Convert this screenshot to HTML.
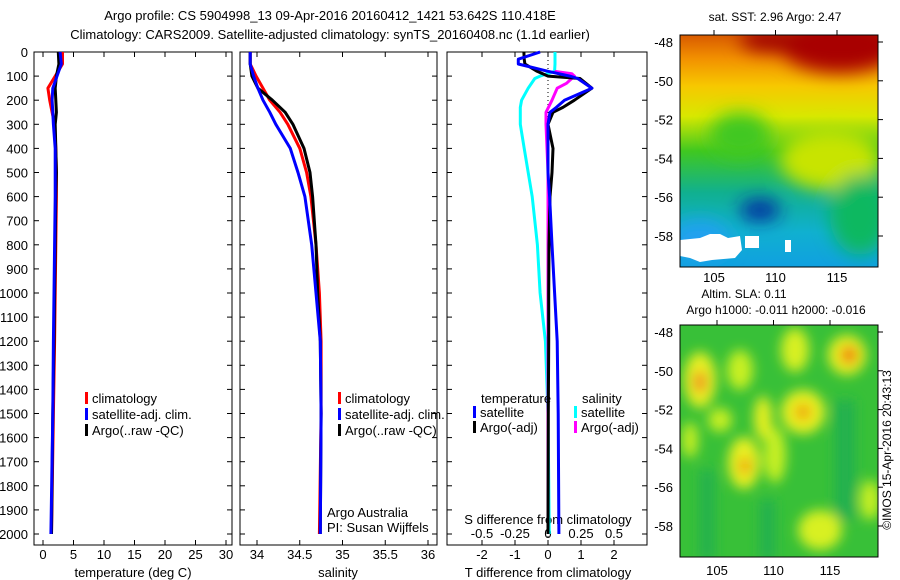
<!DOCTYPE html>
<html><head><meta charset="utf-8"><style>
html,body{margin:0;padding:0;background:#fff}
svg{display:block;font-family:"Liberation Sans",sans-serif}
text{font-size:13px;fill:#000}
</style></head><body>
<svg id="c" width="900" height="580" viewBox="0 0 900 580" xmlns="http://www.w3.org/2000/svg">
<defs>
<filter id="bl" x="-50%" y="-50%" width="200%" height="200%"><feGaussianBlur stdDeviation="9"/></filter>
<filter id="bl2" x="-50%" y="-50%" width="200%" height="200%"><feGaussianBlur stdDeviation="6"/></filter>
<clipPath id="cm1"><rect x="680" y="35" width="198" height="232"/></clipPath>
<clipPath id="cm2"><rect x="680" y="325" width="198" height="232"/></clipPath>
<linearGradient id="sst" x1="0" y1="0" x2="0" y2="1">
<stop offset="0" stop-color="#d85a00"/><stop offset="0.1" stop-color="#f29000"/><stop offset="0.22" stop-color="#f7c800"/>
<stop offset="0.35" stop-color="#d8e800"/><stop offset="0.5" stop-color="#40c820"/><stop offset="0.68" stop-color="#10b090"/>
<stop offset="0.85" stop-color="#10b0d0"/><stop offset="1" stop-color="#10a0e0"/></linearGradient>
</defs>
<text x="330" y="20" text-anchor="middle">Argo profile: CS 5904998_13 09-Apr-2016 20160412_1421 53.642S 110.418E</text>
<text x="330" y="39" text-anchor="middle">Climatology: CARS2009. Satellite-adjusted climatology: synTS_20160408.nc (1.1d earlier)</text>
<g id="g"></g>
<g>
<g clip-path="url(#cm1)">
<rect x="680" y="35" width="198" height="232" fill="url(#sst)"/>
<g filter="url(#bl)">
<ellipse cx="840" cy="45" rx="60" ry="28" fill="#a80000"/>
<ellipse cx="770" cy="40" rx="30" ry="12" fill="#a00000"/>
<ellipse cx="830" cy="160" rx="50" ry="30" fill="#c8e400"/>
<ellipse cx="740" cy="135" rx="30" ry="22" fill="#40c820"/>
<ellipse cx="860" cy="215" rx="30" ry="40" fill="#10b860"/>
<ellipse cx="760" cy="210" rx="20" ry="10" fill="#0020a0"/>
<ellipse cx="700" cy="240" rx="30" ry="20" fill="#20a0f0"/>
</g>
<path d="M680 240 L700 238 L710 234 L720 234 L728 238 L740 236 L742 250 L735 258 L712 260 L700 262 L690 258 L680 256 Z" fill="#fff"/>
<rect x="745" y="236" width="14" height="12" fill="#fff"/>
<rect x="785" y="240" width="6" height="12" fill="#fff"/>
</g>
<rect x="680" y="35" width="198" height="232" fill="none" stroke="#000"/>
</g>
<g>
<g clip-path="url(#cm2)">
<rect x="680" y="325" width="198" height="232" fill="#38c038"/>
<g filter="url(#bl2)">
<rect x="700" y="470" width="14" height="90" fill="#20b050"/>
<rect x="835" y="400" width="20" height="120" fill="#20b050"/>
<rect x="760" y="500" width="15" height="60" fill="#20b050"/>
<ellipse cx="700" cy="380" rx="16" ry="28" fill="#e8f020"/>
<ellipse cx="700" cy="382" rx="6" ry="11" fill="#f08020"/>
<ellipse cx="847" cy="355" rx="19" ry="20" fill="#e8f020"/>
<ellipse cx="849" cy="355" rx="8" ry="9" fill="#f07010"/>
<ellipse cx="803" cy="412" rx="22" ry="22" fill="#e8f020"/>
<ellipse cx="803" cy="412" rx="8" ry="8" fill="#f0a000"/>
<ellipse cx="744" cy="463" rx="16" ry="26" fill="#e8f020"/>
<ellipse cx="745" cy="466" rx="5" ry="8" fill="#f08000"/>
<ellipse cx="763" cy="418" rx="9" ry="22" fill="#e8f020"/>
<ellipse cx="795" cy="350" rx="14" ry="22" fill="#d8f020"/>
<ellipse cx="820" cy="530" rx="22" ry="20" fill="#d8f020"/>
<ellipse cx="740" cy="370" rx="13" ry="20" fill="#c8f020"/>
<ellipse cx="775" cy="455" rx="11" ry="28" fill="#c8f020"/>
<ellipse cx="720" cy="420" rx="12" ry="12" fill="#c8f020"/>
<ellipse cx="870" cy="500" rx="10" ry="20" fill="#c8f020"/>
<ellipse cx="690" cy="440" rx="8" ry="18" fill="#c8f020"/>
</g>
</g>
<rect x="680" y="325" width="198" height="232" fill="none" stroke="#000"/>
</g>
<text x="775" y="21" text-anchor="middle" style="font-size:12px">sat. SST: 2.96 Argo: 2.47</text>
<text x="744" y="298" text-anchor="middle" style="font-size:12px">Altim. SLA: 0.11</text>
<text x="776" y="314" text-anchor="middle" style="font-size:12px">Argo h1000: -0.011 h2000: -0.016</text>
<text transform="translate(891,450) rotate(-90)" text-anchor="middle" style="font-size:12px">©IMOS 15-Apr-2016 20:43:13</text>
</svg>
<script>
const depths=[0,50,100,150,200,250,300,400,500,600,800,1000,1200,1500,2000];
const tempClim=[3.2,3.2,2.0,0.8,1.1,1.5,1.9,2.1,2.2,2.2,2.1,2.0,1.9,1.7,1.4];
const tempArgo=[2.5,2.6,2.2,2.0,2.1,2.2,2.0,2.1,2.2,2.1,2.0,1.9,1.8,1.6,1.4];
const tempSat=[2.8,3.0,2.3,1.6,1.5,1.6,1.7,2.0,2.0,2.0,1.9,1.8,1.7,1.6,1.3];
const salClim=[33.92,33.92,33.99,34.07,34.15,34.27,34.36,34.50,34.58,34.63,34.69,34.73,34.75,34.75,34.73];
const salArgo=[33.92,33.92,33.94,34.01,34.18,34.33,34.42,34.55,34.62,34.65,34.69,34.71,34.74,34.75,34.74];
const salSat=[33.92,33.92,33.96,34.01,34.07,34.15,34.22,34.39,34.48,34.56,34.64,34.69,34.74,34.75,34.74];
const diffDepths=[0,30,50,80,100,110,150,200,230,250,300,400,500,600,800,1000,1200,1500,2000];
const dTsat=[-0.24,-0.9,-0.9,0.0,0.66,0.9,1.33,0.5,0.25,0.06,0.0,0.0,0.0,0.05,0.12,0.2,0.28,0.31,0.33];
const dTargo=[-0.73,-0.72,-0.7,-0.33,0.0,0.97,1.33,0.8,0.45,0.15,0.0,0.15,0.12,0.06,0.03,0.02,0.02,0.01,0.0];
const dSsat=[0.053,0.053,0.053,0.05,-0.06,-0.1,-0.15,-0.2,-0.21,-0.21,-0.21,-0.18,-0.15,-0.12,-0.08,-0.06,-0.02,0.0,0.01];
const dSargoDepths=[80,90,100,130,150,200,250,300,500,1000,2000];
const dSargo=[0.05,0.18,0.2,0.14,0.07,0.03,-0.015,-0.015,0.0,0.0,0.0];
const depthTicks=[0,100,200,300,400,500,600,700,800,900,1000,1100,1200,1300,1400,1500,1600,1700,1800,1900,2000];
const tempTicks=[0,5,10,15,20,25,30];
const salTicks=[34,34.5,35,35.5,36];
const dTTicks=[-2,-1,0,1,2];
const dSTicks=[-0.5,-0.25,0,0.25,0.5];
const latTicks=[-48,-50,-52,-54,-56,-58];
const lonTicks=[105,110,115];

const NS='http://www.w3.org/2000/svg';
const G=document.getElementById('g');
function el(t,a,p){const e=document.createElementNS(NS,t);for(const k in a)e.setAttribute(k,a[k]);(p||G).appendChild(e);return e;}
const Y0=52,YB=545;
const yD=d=>Y0+d*0.241;
const xT=t=>43+t*6.1;
const xS=s=>257+(s-34)*85.5;
const xdT=v=>548+v*33;
const xdS=v=>548+v*132;
const panels=[[34,232],[240,437],[447,647]];
panels.forEach((p,i)=>{
  const r=el('rect',{x:p[0],y:Y0,width:p[1]-p[0],height:YB-Y0,fill:'none',stroke:'#000'});
  
  
  depthTicks.forEach(d=>{
    el('line',{x1:p[0],x2:p[0]+5,y1:yD(d),y2:yD(d),stroke:'#000'});
    el('line',{x1:p[1],x2:p[1]-5,y1:yD(d),y2:yD(d),stroke:'#000'});
  });
});
depthTicks.forEach(d=>{
  const t=el('text',{x:28,y:yD(d)+5,'text-anchor':'end'});t.textContent=d;
  
  
});
function xticks(vals,fx,y,lab){
  vals.forEach(v=>{
    el('line',{x1:fx(v),x2:fx(v),y1:Y0,y2:Y0+5,stroke:'#000'});
    el('line',{x1:fx(v),x2:fx(v),y1:YB,y2:YB-5,stroke:'#000'});
    if(lab){const t=el('text',{x:fx(v),y:y,'text-anchor':'middle'});t.textContent=v;
    
    }
  });
}
xticks(tempTicks,xT,559,true);
xticks(salTicks,xS,559,true);
xticks(dTTicks,xdT,559,true);
dSTicks.forEach(v=>{const t=el('text',{x:xdS(v),y:538,'text-anchor':'middle'});t.textContent=v;
  
  });
function lbl(x,y,s,name,anchor){const t=el('text',{x:x,y:y,'text-anchor':anchor||'middle'});t.textContent=s;
  
  return t;}
lbl(133,577,'temperature (deg C)','temperature-axis-title');
lbl(338,577,'salinity','salinity-axis-title');
lbl(548,577,'T difference from climatology','t-diff-axis-title');
lbl(548,524,'S difference from climatology','s-diff-axis-title');
lbl(327,517,'Argo Australia','argo-australia-label','start');
lbl(327,532,'PI: Susan Wijffels','pi-label','start');
el('line',{x1:548,x2:548,y1:Y0,y2:YB,stroke:'#000','stroke-dasharray':'1,3'});
function line(xs,ds,fx,col,name,w){
  const pts=xs.map((v,i)=>fx(v).toFixed(1)+','+yD(ds[i]).toFixed(1)).join(' ');
  const p=el('polyline',{points:pts,fill:'none',stroke:col,'stroke-width':w||3,'stroke-linejoin':'round'});
  
  
}
line(tempClim,depths,xT,'#f00','temp-climatology-line');
line(tempArgo,depths,xT,'#000','temp-argo-line');
line(tempSat,depths,xT,'#00f','temp-satellite-line');
line(salClim,depths,xS,'#f00','sal-climatology-line');
line(salArgo,depths,xS,'#000','sal-argo-line');
line(salSat,depths,xS,'#00f','sal-satellite-line');
line(dSsat,diffDepths,xdS,'#0ff','sdiff-satellite-line');
line(dSargo,dSargoDepths,xdS,'#f0f','sdiff-argo-line');
line(dTargo,diffDepths,xdT,'#000','tdiff-argo-line');
line(dTsat,diffDepths,xdT,'#00f','tdiff-satellite-line');
function legend(x,y,col,s,name){
  const r=el('rect',{x:x,y:y-11,width:3,height:12,fill:col});
  
  
  lbl(x+7,y,s,name,'start');
}
[[85,'#f00','climatology'],[85,'#00f','satellite-adj. clim.'],[85,'#000','Argo(..raw -QC)']].forEach((e,i)=>legend(e[0],403+i*16,e[1],e[2],'legend-entry-temp-'+i));
[[338,'#f00','climatology'],[338,'#00f','satellite-adj. clim.'],[338,'#000','Argo(..raw -QC)']].forEach((e,i)=>legend(e[0],403+i*16,e[1],e[2],'legend-entry-sal-'+i));
lbl(481,403,'temperature','legend-temperature-header','start');
lbl(582,403,'salinity','legend-salinity-header','start');
legend(473,417,'#00f','satellite','legend-tdiff-satellite');
legend(473,432,'#000','Argo(-adj)','legend-tdiff-argo');
legend(574,417,'#0ff','satellite','legend-sdiff-satellite');
legend(574,432,'#f0f','Argo(-adj)','legend-sdiff-argo');
function mapAxes(top,lat0y,lonx,ly0){
  const ly=l=>lat0y+(-48-l)*19.4;
  latTicks.forEach(l=>{lbl(673,ly(l)+5,l,'map-lat-label','end');
    el('line',{x1:878,x2:883,y1:ly(l),y2:ly(l),stroke:'#000'});});
  lonTicks.forEach(l=>{const x=lonx(l);lbl(x,ly0,l,'map-lon-label');
    el('line',{x1:x,x2:x,y1:top,y2:top-5,stroke:'#000'});});
}
mapAxes(35,42,l=>714+(l-105)*12.3,282);
mapAxes(325,332,l=>717+(l-105)*11.3,575);
</script>
</body></html>
